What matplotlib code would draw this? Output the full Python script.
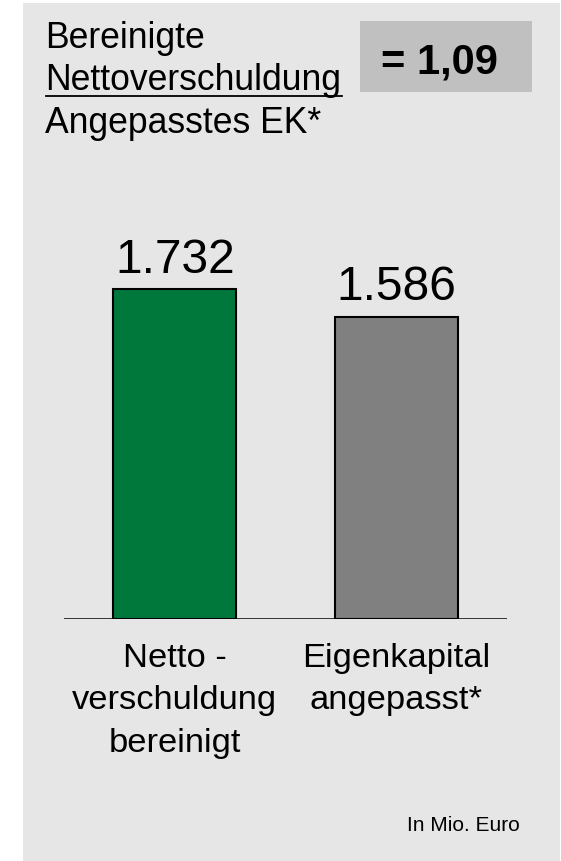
import matplotlib
matplotlib.use("Agg")
import matplotlib.pyplot as plt
from matplotlib.patches import Rectangle
from matplotlib.transforms import blended_transform_factory

plt.rcParams['font.family'] = ['Liberation Sans', 'DejaVu Sans']

# Data (Mio. Euro)
categories = ["Netto -\nverschuldung\nbereinigt", "Eigenkapital\nangepasst*"]
values = [1732, 1586]
value_labels = ["1.732", "1.586"]
bar_colors = ["#00783C", "#808080"]
ratio_text = "= 1,09"
header_lines = ["Bereinigte", "Nettoverschuldung", "Angepasstes EK*"]
unit_text = "In Mio. Euro"

W, H = 561, 862
fig = plt.figure(figsize=(W / 100, H / 100), dpi=100)
fig.patch.set_facecolor("white")


def px(x, y):
    # pixel position (from top-left) -> figure fraction
    return x / W, 1 - y / H


# grey panel behind everything
fig.patches.append(Rectangle((23 / W, 0), (560 - 23) / W, (H - 4) / H,
                             transform=fig.transFigure, facecolor="#e6e6e6",
                             edgecolor="none", zorder=-2))

# header: fraction-style text
for line, yb in zip(header_lines, [48, 90, 133]):
    fig.text(*px(45, yb), line, fontsize=25.6, va="baseline", ha="left")
fig.add_artist(plt.Line2D([46 / W, 342 / W], [1 - 97 / H, 1 - 97 / H],
                          color="black", lw=1.3, transform=fig.transFigure))

# ratio box
fig.patches.append(Rectangle(px(360, 93), (532 - 360) / W, (93 - 22) / H,
                             transform=fig.transFigure, facecolor="#c0c0c0",
                             edgecolor="none", zorder=-1))
fig.text(*px(381, 73), ratio_text, fontsize=30, fontweight="bold",
         va="baseline", ha="left", zorder=2)

# bar chart area
base_y = 620
top_y = 200
ax = fig.add_axes([64 / W, 1 - base_y / H, (507 - 64) / W, (base_y - top_y) / H])
ax.set_facecolor("none")
scale = 330 / 1732  # px per unit
ax.set_ylim(0, (base_y - top_y) / scale)
ax.set_xlim(-0.5, 1.5)
x = range(len(values))
ax.bar(x, values, width=0.555, color=bar_colors, edgecolor="black",
       linewidth=1.5, zorder=2)
ax.axhline(0, color="black", lw=1.8, zorder=3)
for s in ax.spines.values():
    s.set_visible(False)
ax.set_xticks([])
ax.set_yticks([])

# value labels above bars
for xi, v, lab in zip(x, values, value_labels):
    ax.annotate(lab, (xi, v), xytext=(0, 12.5), textcoords="offset points",
                ha="center", va="baseline", fontsize=34.5)

# category labels, one line at a time
trans = blended_transform_factory(ax.transData, fig.transFigure)
for xi, cat in zip(x, categories):
    for k, line in enumerate(cat.split("\n")):
        yb = 667 + k * 42.5
        ax.text(xi, 1 - yb / H, line, transform=trans, ha="center",
                va="baseline", fontsize=24.8)

fig.text(*px(520, 831), unit_text, fontsize=15, ha="right", va="baseline")

fig.savefig("out.png", dpi=100)
